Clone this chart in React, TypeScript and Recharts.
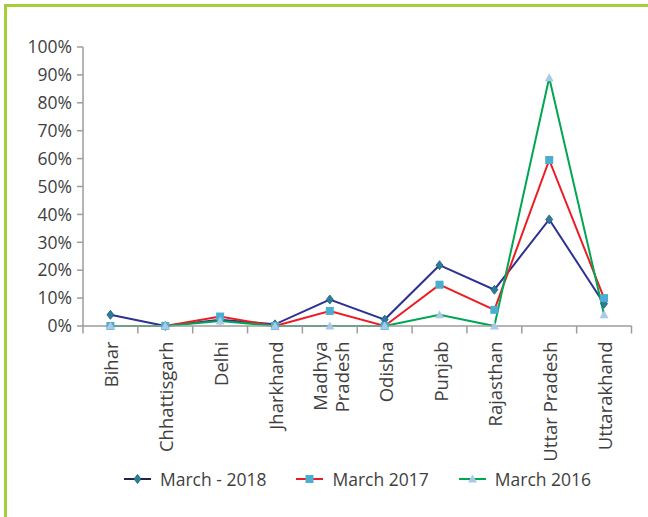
import { LineChart, Line, XAxis, YAxis } from "recharts";

// share of accounts by state, percent
const CATEGORIES = [
  "Bihar",
  "Chhattisgarh",
  "Delhi",
  "Jharkhand",
  "Madhya\nPradesh",
  "Odisha",
  "Punjab",
  "Rajasthan",
  "Uttar Pradesh",
  "Uttarakhand",
];
const MARCH_2018 = [4, 0, 2.2, 0.6, 9.5, 2.3, 21.8, 13, 38.2, 8];
const MARCH_2017 = [0, 0, 3.4, 0, 5.4, 0, 14.8, 5.8, 59.5, 10];
const MARCH_2016 = [0, 0, 1.8, 0, 0, 0, 4, 0, 89, 4];
const Y_TICKS = [0, 10, 20, 30, 40, 50, 60, 70, 80, 90, 100];

const SERIES = [
  { key: "m2018", name: "March - 2018", values: MARCH_2018, stroke: "#2E3192", legendStroke: "#23244a", marker: "#2C7C9C", shape: "diamond" },
  { key: "m2017", name: "March 2017", values: MARCH_2017, stroke: "#ED1C24", legendStroke: "#ED1C24", marker: "#4BADCF", shape: "square" },
  { key: "m2016", name: "March 2016", values: MARCH_2016, stroke: "#00A651", legendStroke: "#00A651", marker: "#A9CAE6", shape: "triangle" },
];

const data = CATEGORIES.map((name, i) => {
  const row: Record<string, string | number> = { name };
  SERIES.forEach((s) => (row[s.key] = s.values[i]));
  return row;
});

const FONT = "'Open Sans', sans-serif";
const TEXT = "#3f3f3f";
const AXIS = "#9d9d9d";
const CHART_W = 648;
const CHART_H = 517;
const Y_AXIS_W = 83;
const RIGHT = 16.5;
const BAND = (CHART_W - Y_AXIS_W - RIGHT) / CATEGORIES.length;

function Marker({ shape, cx, cy, fill }: { shape: string; cx: number; cy: number; fill: string }) {
  if (shape === "diamond") {
    return (
      <path
        d={`M${cx},${cy - 4.5}L${cx + 3.5},${cy}L${cx},${cy + 4.5}L${cx - 3.5},${cy}Z`}
        fill={fill}
        stroke="#1f5d78"
        strokeWidth={0.8}
      />
    );
  }
  if (shape === "square") {
    return <rect x={cx - 4} y={cy - 4} width={8} height={8} fill={fill} />;
  }
  return <path d={`M${cx},${cy - 4.5}L${cx + 4.5},${cy + 3.5}L${cx - 4.5},${cy + 3.5}Z`} fill={fill} />;
}

function CategoryTick(props: any) {
  const { x, y, payload, index } = props;
  const lines = String(payload.value).split("\n");
  const left = x - BAND / 2;
  return (
    <g>
      <line x1={left} y1={y} x2={left} y2={y + 7.5} stroke={AXIS} strokeWidth={1.5} />
      {index === CATEGORIES.length - 1 && (
        <line x1={x + BAND / 2} y1={y} x2={x + BAND / 2} y2={y + 7.5} stroke={AXIS} strokeWidth={1.5} />
      )}
      <text
        transform={`translate(${x},${y + 15.5}) rotate(-90)`}
        textAnchor="end"
        dominantBaseline="central"
        fontSize={18.5}
        fontFamily={FONT}
        fill={TEXT}
      >
        {lines.map((l, i) => (
          <tspan key={i} x={0} y={(i - (lines.length - 1) / 2) * 22.5}>
            {l}
          </tspan>
        ))}
      </text>
    </g>
  );
}

function LegendRow() {
  return (
    <div
      style={{
        position: "absolute",
        left: 124,
        top: 467,
        display: "flex",
        gap: 30,
        fontFamily: FONT,
        fontSize: 17.5,
        color: TEXT,
      }}
    >
      {SERIES.map((s) => (
        <div key={s.key} style={{ display: "flex", alignItems: "center", height: 24, gap: 9 }}>
          <svg width={27} height={12}>
            <line x1={0} y1={6} x2={27} y2={6} stroke={s.legendStroke} strokeWidth={2} />
            <Marker shape={s.shape} cx={13.5} cy={6} fill={s.marker} />
          </svg>
          <span style={{ lineHeight: "24px", whiteSpace: "nowrap" }}>{s.name}</span>
        </div>
      ))}
    </div>
  );
}

export default function App() {
  return (
    <div
      style={{
        position: "absolute",
        left: 0,
        top: 0,
        width: CHART_W,
        height: CHART_H,
        overflow: "hidden",
        background: "#fff",
        fontFamily: FONT,
      }}
    >
      <div
        style={{
          position: "absolute",
          left: 4,
          top: 4,
          width: 700,
          height: 600,
          borderTop: "3px solid #A6CE39",
          borderLeft: "3px solid #A6CE39",
        }}
      />
      <LineChart
        width={CHART_W}
        height={CHART_H}
        data={data}
        margin={{ top: 47, right: RIGHT, bottom: 0, left: 0 }}
        style={{ position: "absolute", left: 0, top: 0 }}
      >
        <XAxis
          dataKey="name"
          height={191}
          interval={0}
          padding={{ left: BAND / 2, right: BAND / 2 }}
          tickLine={false}
          tickSize={0}
          tickMargin={0}
          axisLine={{ stroke: AXIS, strokeWidth: 1.5 }}
          tick={<CategoryTick />}
        />
        <YAxis
          width={Y_AXIS_W}
          type="number"
          domain={[0, 100]}
          ticks={Y_TICKS}
          interval={0}
          tickFormatter={(v) => `${v}%`}
          tickSize={6}
          tickMargin={5}
          tickLine={{ stroke: AXIS, strokeWidth: 1.5 }}
          axisLine={{ stroke: AXIS, strokeWidth: 1.5 }}
          tick={{ fill: TEXT, fontSize: 17.5, fontFamily: FONT }}
        />
        {SERIES.map((s) => (
          <Line
            key={s.key}
            dataKey={s.key}
            name={s.name}
            type="linear"
            stroke={s.stroke}
            strokeWidth={2}
            isAnimationActive={false}
            activeDot={false}
            dot={(p: any) => <Marker key={`${s.key}-${p.index}`} shape={s.shape} cx={p.cx} cy={p.cy} fill={s.marker} />}
          />
        ))}
      </LineChart>
      <LegendRow />
    </div>
  );
}
